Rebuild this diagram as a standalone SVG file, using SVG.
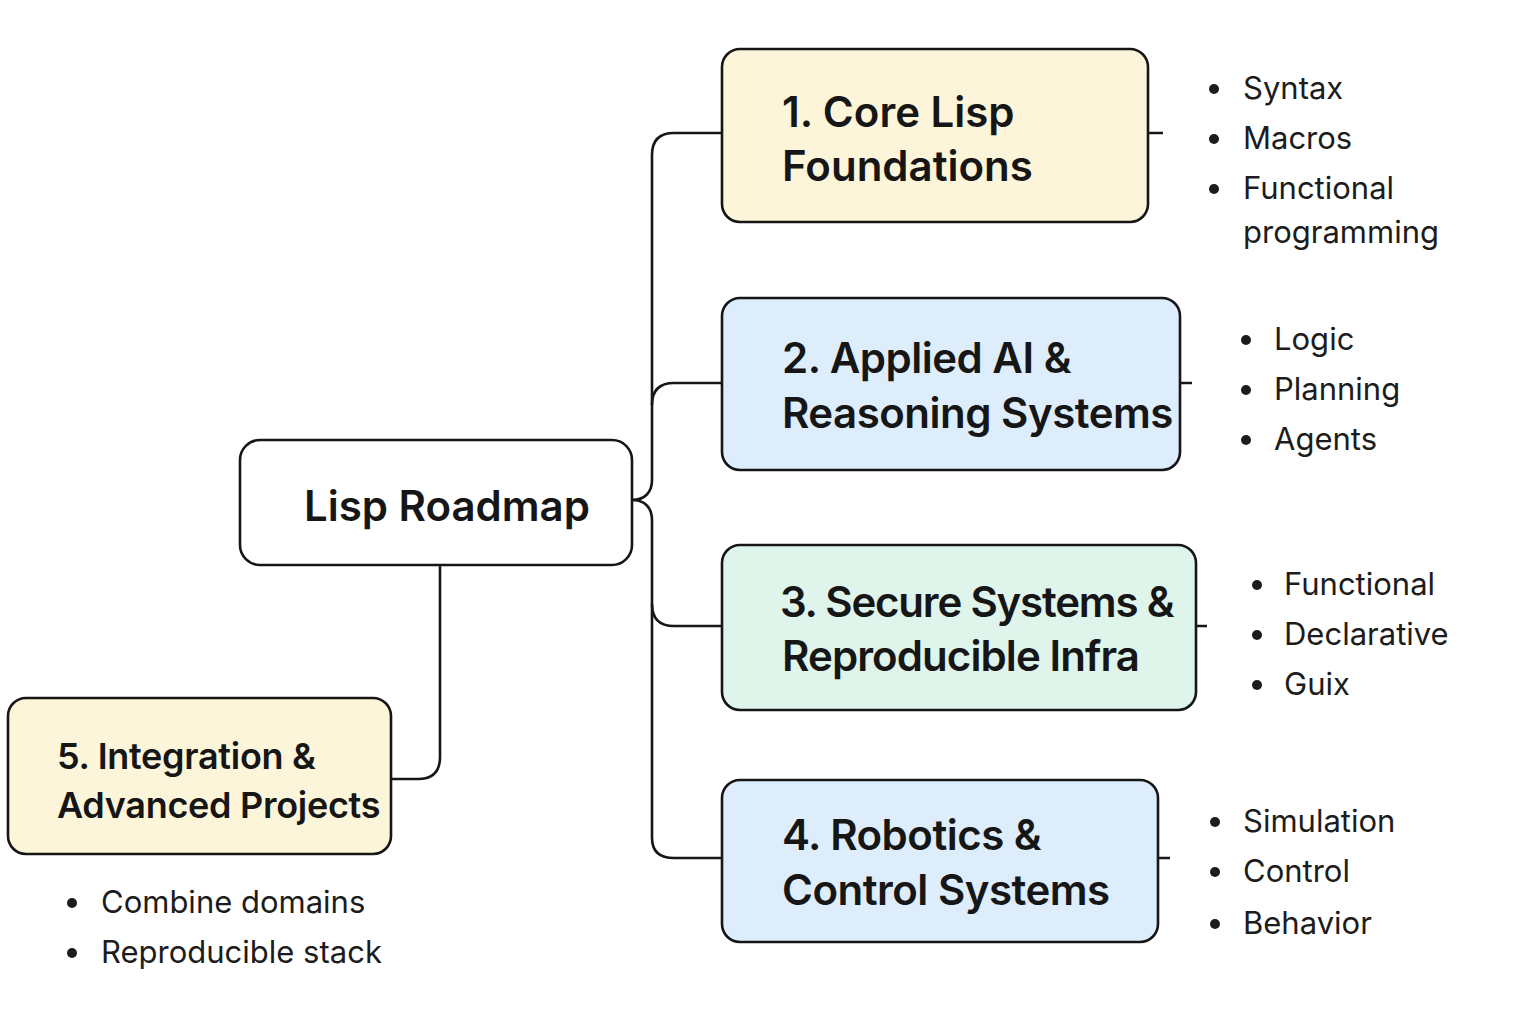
<svg xmlns="http://www.w3.org/2000/svg" width="1536" height="1024" viewBox="0 0 1536 1024">
<style>
.box{stroke:#161616;stroke-width:2.6}
.yel{fill:#fdf5d9}
.blu{fill:#ddedfc}
.grn{fill:#dff4ea}
.wht{fill:#ffffff}
.h{font-family:Inter,"Noto Sans","Liberation Sans",sans-serif;font-weight:600;font-size:42px;letter-spacing:-0.5px;fill:#161616}
.h5{font-size:36px;letter-spacing:-0.3px}
.b{font-family:Inter,"Noto Sans","Liberation Sans",sans-serif;font-weight:400;font-size:31px;fill:#1c1c1c}
.dot{fill:#1c1c1c}
.con{fill:none;stroke:#161616;stroke-width:2.6}
</style>
<rect width="1536" height="1024" fill="#ffffff"/>
<g id="connectors">
<path class="con" d="M632,500 C645,500 652,492 652,480 L652,155 Q652,133 674,133 L722,133"/>
<path class="con" d="M652,405 Q652,383 674,383 L722,383"/>
<path class="con" d="M632,500 C645,500 652,508 652,520 L652,838 Q652,858 674,858 L722,858"/>
<path class="con" d="M652,604 Q652,626 674,626 L722,626"/>
<path class="con" d="M440,565 L440,757 Q440,779 418,779 L391,779"/>
<path class="con" d="M1148,133 L1163,133 M1180,383 L1192,383 M1196,626 L1207,626 M1158,858 L1170,858"/>
</g>
<g id="root">
<rect class="box wht" x="240" y="440" width="392" height="125" rx="20"/>
<text class="h" x="304" y="521" style="letter-spacing:0">Lisp Roadmap</text>
</g>
<g id="node1">
<rect class="box yel" x="722" y="49" width="426" height="173" rx="18"/>
<text class="h" x="782" y="127" style="letter-spacing:0">1. Core Lisp</text>
<text class="h" x="782" y="181" style="letter-spacing:0">Foundations</text>
</g>
<g id="node2">
<rect class="box blu" x="722" y="298" width="458" height="172" rx="18"/>
<text class="h" x="782" y="373">2. Applied AI &amp;</text>
<text class="h" x="782" y="428">Reasoning Systems</text>
</g>
<g id="node3">
<rect class="box grn" x="722" y="545" width="474" height="165" rx="18"/>
<text class="h" x="780" y="617" style="letter-spacing:-1.2px">3. Secure Systems &amp;</text>
<text class="h" x="782" y="671" style="letter-spacing:-0.9px">Reproducible Infra</text>
</g>
<g id="node4">
<rect class="box blu" x="722" y="780" width="436" height="162" rx="18"/>
<text class="h" x="782" y="850">4. Robotics &amp;</text>
<text class="h" x="782" y="905">Control Systems</text>
</g>
<g id="node5">
<rect class="box yel" x="8" y="698" width="383" height="156" rx="18"/>
<text class="h h5" x="57" y="769">5. Integration &amp;</text>
<text class="h h5" x="57" y="818">Advanced Projects</text>
</g>
<g id="list1">
<circle class="dot" cx="1214" cy="89" r="5"/><text class="b" x="1243" y="99">Syntax</text>
<circle class="dot" cx="1214" cy="139" r="5"/><text class="b" x="1243" y="149">Macros</text>
<circle class="dot" cx="1214" cy="189" r="5"/><text class="b" x="1243" y="199">Functional</text>
<text class="b" x="1243" y="243">programming</text>
</g>
<g id="list2">
<circle class="dot" cx="1246" cy="340" r="5"/><text class="b" x="1274" y="350">Logic</text>
<circle class="dot" cx="1246" cy="390" r="5"/><text class="b" x="1274" y="400">Planning</text>
<circle class="dot" cx="1246" cy="440" r="5"/><text class="b" x="1274" y="450">Agents</text>
</g>
<g id="list3">
<circle class="dot" cx="1257" cy="585" r="5"/><text class="b" x="1284" y="595">Functional</text>
<circle class="dot" cx="1257" cy="635" r="5"/><text class="b" x="1284" y="645">Declarative</text>
<circle class="dot" cx="1257" cy="685" r="5"/><text class="b" x="1284" y="695">Guix</text>
</g>
<g id="list4">
<circle class="dot" cx="1215" cy="822" r="5"/><text class="b" x="1243" y="832">Simulation</text>
<circle class="dot" cx="1215" cy="872" r="5"/><text class="b" x="1243" y="882">Control</text>
<circle class="dot" cx="1215" cy="924" r="5"/><text class="b" x="1243" y="934">Behavior</text>
</g>
<g id="list5">
<circle class="dot" cx="72" cy="903" r="5"/><text class="b" x="101" y="913">Combine domains</text>
<circle class="dot" cx="72" cy="953" r="5"/><text class="b" x="101" y="963">Reproducible stack</text>
</g>
</svg>
